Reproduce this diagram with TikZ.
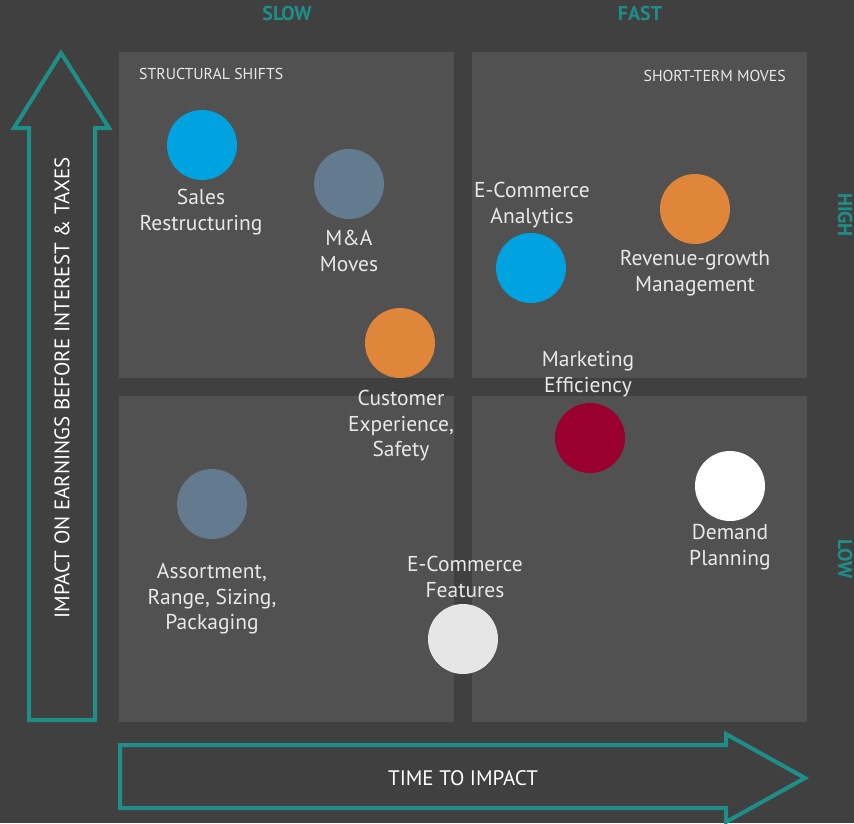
\documentclass[tikz,border=0pt]{standalone}
\usepackage{fontspec}
\setmainfont{PT Sans}
\definecolor{bgc}{HTML}{404040}
\definecolor{quadc}{HTML}{515151}
\definecolor{teal1}{HTML}{1E8E89}
\definecolor{txtc}{HTML}{E8E8E8}
\definecolor{blue1}{HTML}{00A3E0}
\definecolor{slate1}{HTML}{647A8F}
\definecolor{orange1}{HTML}{E0863A}
\definecolor{crimson1}{HTML}{990030}
\definecolor{lgray1}{HTML}{E6E6E6}
\begin{document}
\begin{tikzpicture}[x=1pt,y=-1pt,
  quad/.style={fill=quadc,draw=none},
  dot/.style={circle,draw=none,minimum size=70pt,inner sep=0pt},
  lbl/.style={text=txtc,align=center,font=\fontsize{21.5}{25.5}\selectfont,inner sep=0pt},
  qtitle/.style={text=txtc,font=\fontsize{15.8}{18}\selectfont,inner sep=0pt},
  axtitle/.style={text=teal1,font=\bfseries\fontsize{20}{22}\selectfont,inner sep=0pt},
  bigarrow/.style={draw=teal1,line width=4pt,line join=miter},
  arrtext/.style={text=white,font=\fontsize{21}{24}\selectfont,inner sep=0pt}]
\fill[bgc] (0,0) rectangle (854,823);
\useasboundingbox (0,0) rectangle (854,823);
% quadrants
\fill[quad] (119,52) rectangle (454,378);
\fill[quad] (472,52) rectangle (807,378);
\fill[quad] (119,396) rectangle (454,722);
\fill[quad] (472,396) rectangle (807,722);
% axis titles
\node[axtitle] (slow) at (287,13) {SLOW};
\node[axtitle] (fast) at (640,13) {FAST};
\node[axtitle,rotate=-90] (high) at (845,215) {HIGH};
\node[axtitle,rotate=-90] (low) at (845,559) {LOW};
% quadrant titles
\node[qtitle,anchor=west] (struct) at (139,74) {STRUCTURAL SHIFTS};
\node[qtitle,anchor=east] (short) at (786,76) {SHORT-TERM MOVES};
% vertical arrow
\draw[bigarrow] (29,720) -- (29,128) -- (14,128) -- (61,53) -- (109,128) -- (95,128) -- (95,720) -- cycle;
\node[arrtext,rotate=90] (yax) at (62,388) {IMPACT ON EARNINGS BEFORE INTEREST \& TAXES};
% horizontal arrow
\draw[bigarrow] (120,745) -- (726,745) -- (726,734) -- (805,778) -- (726,822) -- (726,808) -- (120,808) -- cycle;
\node[arrtext] (xax) at (463,778) {TIME TO IMPACT};
% circles
\node[dot,fill=blue1] (sales) at (202,145) {};
\node[dot,fill=slate1] (ma) at (349,184) {};
\node[dot,fill=orange1] (cust) at (400,343) {};
\node[dot,fill=blue1] (ecan) at (531,268) {};
\node[dot,fill=orange1] (rgm) at (695,209) {};
\node[dot,fill=crimson1] (mkt) at (590,438) {};
\node[dot,fill=white] (dem) at (730,486) {};
\node[dot,fill=lgray1] (ecf) at (463,639) {};
\node[dot,fill=slate1] (asst) at (212,504) {};
% labels
\node[lbl] (salesl) at (201,212) {Sales\\Restructuring};
\node[lbl] (mal) at (349,251) {M\&A\\Moves};
\node[lbl] (custl) at (401,426) {Customer\\Experience,\\Safety};
\node[lbl] (ecanl) at (532,205) {E-Commerce\\Analytics};
\node[lbl] (rgml) at (695,273) {Revenue-growth\\Management};
\node[lbl] (mktl) at (588,374) {Marketing\\Efficiency};
\node[lbl] (deml) at (730,547) {Demand\\Planning};
\node[lbl] (ecfl) at (465,577) {E-Commerce\\Features};
\node[lbl] (asstl) at (212,599) {Assortment,\\Range, Sizing,\\Packaging};
\end{tikzpicture}
\end{document}
